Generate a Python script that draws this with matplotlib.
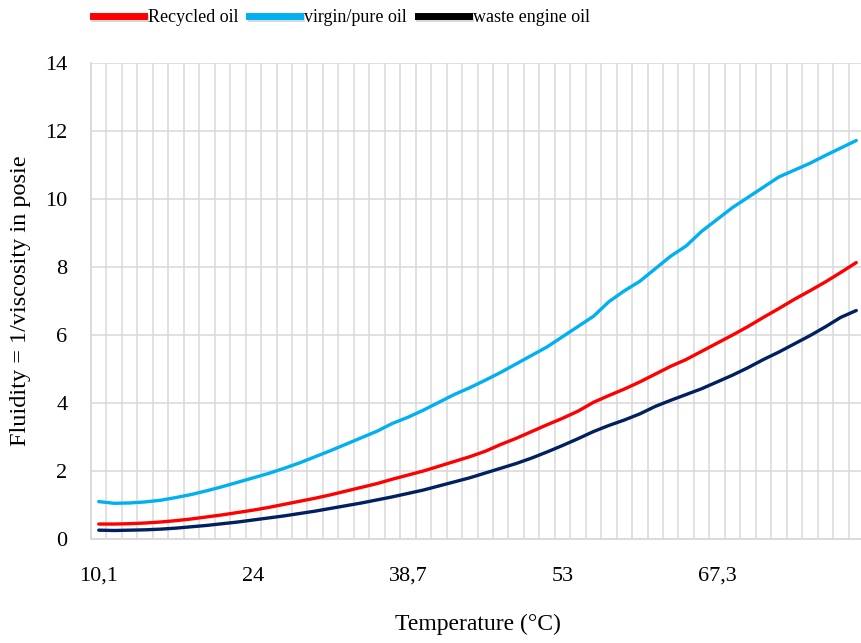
import matplotlib

matplotlib.use("Agg")
import matplotlib.pyplot as plt
import matplotlib.patheffects as pe
from matplotlib.lines import Line2D

# temperature categories (degC), one per row of the source table
temperature = [
    10.1, 11.5, 12.9, 14.3, 15.7, 17.1, 18.5, 19.9, 21.3, 22.7,
    24, 25.5, 27, 28.4, 29.9, 31.4, 32.8, 34.3, 35.8, 37.2,
    38.7, 40.1, 41.6, 43, 44.4, 45.9, 47.3, 48.7, 50.2, 51.6,
    53, 54.4, 55.9, 57.3, 58.7, 60.2, 61.6, 63, 64.4, 65.9,
    67.3, 68.7, 70.2, 71.6, 73, 74.4, 75.9, 77.3, 78.7, 80.2,
]

recycled_oil = [
    0.44, 0.44, 0.45, 0.47, 0.50, 0.54, 0.59, 0.65, 0.71, 0.78,
    0.85, 0.93, 1.02, 1.11, 1.20, 1.30, 1.41, 1.52, 1.63, 1.76,
    1.88, 2.00, 2.14, 2.28, 2.42, 2.58, 2.78, 2.96, 3.16, 3.36,
    3.55, 3.76, 4.02, 4.22, 4.41, 4.62, 4.85, 5.08, 5.28, 5.52,
    5.76, 6.00, 6.25, 6.52, 6.78, 7.05, 7.30, 7.56, 7.84, 8.13,
]

virgin_oil = [
    1.10, 1.05, 1.06, 1.09, 1.14, 1.22, 1.31, 1.42, 1.54, 1.67,
    1.80, 1.93, 2.08, 2.24, 2.42, 2.60, 2.79, 2.98, 3.17, 3.40,
    3.58, 3.79, 4.02, 4.25, 4.45, 4.67, 4.90, 5.15, 5.40, 5.65,
    5.95, 6.25, 6.55, 6.98, 7.30, 7.58, 7.95, 8.32, 8.62, 9.05,
    9.40, 9.75, 10.05, 10.35, 10.65, 10.85, 11.05, 11.28, 11.50, 11.72,
]

waste_oil = [
    0.26, 0.25, 0.26, 0.27, 0.29, 0.32, 0.36, 0.40, 0.45, 0.50,
    0.56, 0.62, 0.68, 0.75, 0.82, 0.90, 0.98, 1.06, 1.15, 1.24,
    1.34, 1.44, 1.56, 1.68, 1.80, 1.94, 2.08, 2.22, 2.38, 2.56,
    2.75, 2.95, 3.16, 3.34, 3.50, 3.68, 3.90, 4.08, 4.25, 4.42,
    4.62, 4.82, 5.04, 5.28, 5.50, 5.74, 5.98, 6.24, 6.52, 6.72,
]

y_ticks = [0, 2, 4, 6, 8, 10, 12, 14]

plt.rcParams["font.family"] = ["Liberation Serif", "DejaVu Serif"]

W, H = 861, 643
fig = plt.figure(figsize=(W / 100, H / 100), dpi=100)
n = len(temperature)
ax = fig.add_axes([91 / W, (H - 539) / H, 773 / W, 476 / H])

x = list(range(n))
ax.plot(x, recycled_oil, color="#ff0000", lw=2.4, solid_capstyle="round", zorder=3)
ax.plot(x, virgin_oil, color="#00b0f0", lw=2.4, solid_capstyle="round", zorder=3)
ax.plot(x, waste_oil, color="#002060", lw=2.4, solid_capstyle="round", zorder=3)

ax.set_xlim(-0.5, n - 0.5)
ax.set_ylim(0, 14)

# category gridlines sit between the categories, labels every 10th
ax.set_xticks([i - 0.5 for i in range(n + 1)], minor=True)
ax.set_xticks(x[::10])
ax.set_xticklabels([f"{t:g}".replace(".", ",") for t in temperature[::10]])
ax.set_yticks(y_ticks)
ax.grid(True, which="minor", axis="x", color="#d9d9d9", lw=1.1)
ax.grid(True, which="major", axis="y", color="#d9d9d9", lw=1.1)
ax.set_axisbelow(True)

ax.tick_params(axis="both", which="both", length=0, labelsize=16)
ax.tick_params(axis="x", pad=20)
ax.tick_params(axis="y", pad=17)

for side in ["top", "right"]:
    ax.spines[side].set_visible(False)
for side in ["left", "bottom"]:
    ax.spines[side].set_color("#d9d9d9")
    ax.spines[side].set_linewidth(1.3)

ax.set_xlabel("Temperature (°C)", fontsize=17, labelpad=20)
ax.set_ylabel("Fluidity = 1/viscosity in posie", fontsize=17.5, labelpad=10)

shadow = [pe.SimpleLineShadow(offset=(1, -1.5), shadow_color="gray", alpha=0.3), pe.Normal()]
handles = [
    Line2D([0], [0], color="#ff0000", lw=5, path_effects=shadow),
    Line2D([0], [0], color="#00b0f0", lw=5, path_effects=shadow),
    Line2D([0], [0], color="black", lw=5, path_effects=shadow),
]
fig.legend(
    handles,
    ["Recycled oil", "virgin/pure oil", "waste engine oil"],
    loc="center left",
    bbox_to_anchor=(93 / W, 1 - 18 / H),
    ncol=3,
    frameon=False,
    fontsize=13,
    handlelength=2.8,
    handletextpad=0.25,
    columnspacing=0.6,
    borderaxespad=0,
    borderpad=0,
)

fig.savefig("out.png", dpi=100)
